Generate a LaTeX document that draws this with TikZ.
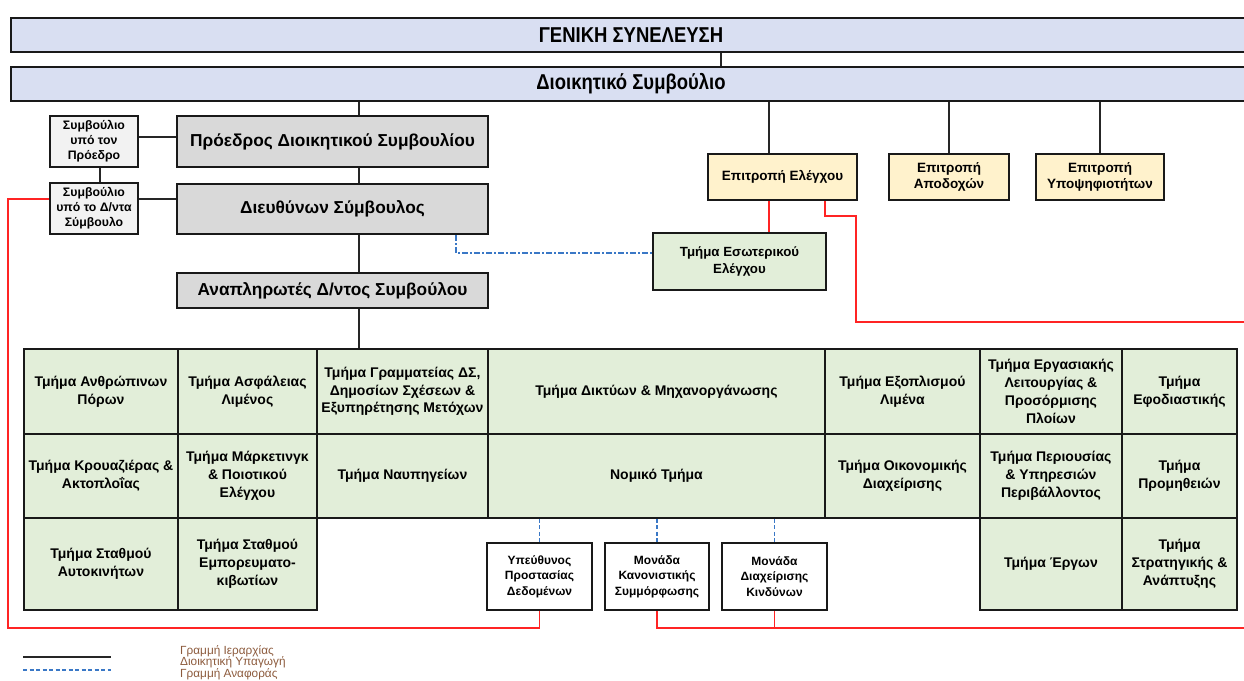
\documentclass[tikz,border=0pt]{standalone}
\usepackage{fontspec}
\setmainfont{Liberation Sans}
\newfontfamily\narrowfont[FakeStretch=0.86]{Liberation Sans}
\definecolor{barblue}{HTML}{D9DFF2}
\definecolor{boxgray}{HTML}{D9D9D9}
\definecolor{palegray}{HTML}{F2F2F2}
\definecolor{cteeyellow}{HTML}{FFF2CC}
\definecolor{deptgreen}{HTML}{E2EED9}
\definecolor{linered}{HTML}{FF2424}
\definecolor{lineblue}{HTML}{3A78C6}
\definecolor{legendbrown}{HTML}{8C5A3C}

\begin{document}
\begin{tikzpicture}[x=1pt, y=-1pt,
  box/.style={draw=black!90, line width=2pt, anchor=north west, inner sep=0pt, align=center, font=\bfseries},
  bar/.style={box, fill=barblue, minimum width=1240pt, minimum height=34pt, font=\narrowfont\bfseries\fontsize{21.5}{24}\selectfont},
  head/.style={box, fill=boxgray, minimum width=311pt, font=\bfseries\fontsize{17.3}{20}\selectfont},
  council/.style={box, fill=palegray, minimum width=88pt, minimum height=51pt, font=\bfseries\fontsize{12.3}{15}\selectfont},
  cttee/.style={box, fill=cteeyellow, minimum height=46pt, font=\bfseries\fontsize{13.5}{16}\selectfont},
  cell/.style={box, fill=deptgreen, line width=1.9pt, font=\bfseries\fontsize{14}{17.7}\selectfont},
  unit/.style={box, fill=white, minimum width=105pt, minimum height=67pt, font=\bfseries\fontsize{12}{15.5}\selectfont},
  hier/.style={draw=black!85, line width=1.5pt},
  admin/.style={draw=linered, line width=1.9pt},
  report/.style={draw=lineblue, line width=1.4pt, dash pattern=on 6pt off 2pt on 2pt off 2pt},
  dashrep/.style={draw=lineblue, line width=1.5pt, dash pattern=on 4pt off 2.5pt}]
\useasboundingbox (0,0) rectangle (1244,680);

% board and management
\node[bar] (gensyn) at (10,17) {ΓΕΝΙΚΗ ΣΥΝΕΛΕΥΣΗ};
\node[bar] (dsboard) at (10,66) {Διοικητικό Συμβούλιο};
\node[head, minimum height=51pt] (chair) at (176,115) {Πρόεδρος Διοικητικού Συμβουλίου};
\node[head, minimum height=50pt] (ceo) at (176,183) {Διευθύνων Σύμβουλος};
\node[head, minimum height=35pt] (deputy) at (176,272) {Αναπληρωτές Δ/ντος Συμβούλου};
\node[council] (chaircouncil) at (49,115) {Συμβούλιο\\υπό τον\\Πρόεδρο};
\node[council] (ceocouncil) at (49,182) {Συμβούλιο\\υπό το Δ/ντα\\Σύμβουλο};

% committees
\node[cttee, minimum width=149pt] (audit) at (707,153) {Επιτροπή Ελέγχου};
\node[cttee, minimum width=120pt] (remun) at (888,153) {Επιτροπή\\Αποδοχών};
\node[cttee, minimum width=128pt] (nomin) at (1035,153) {Επιτροπή\\Υποψηφιοτήτων};
\node[cell, line width=2pt, minimum width=173pt, minimum height=57pt, font=\bfseries\fontsize{13.3}{17}\selectfont] (intaudit) at (652,232) {Τμήμα Εσωτερικού\\Ελέγχου};

% departments, row 1
\node[cell, minimum width=154pt, minimum height=85pt] (hr) at (23,348) {Τμήμα Ανθρώπινων\\Πόρων};
\node[cell, minimum width=139pt, minimum height=85pt] (safety) at (177,348) {Τμήμα Ασφάλειας\\Λιμένος};
\node[cell, minimum width=171pt, minimum height=85pt] (secr) at (316,348) {Τμήμα Γραμματείας ΔΣ,\\Δημοσίων Σχέσεων \&\\Εξυπηρέτησης Μετόχων};
\node[cell, minimum width=337pt, minimum height=85pt] (netw) at (487,348) {Τμήμα Δικτύων \& Μηχανοργάνωσης};
\node[cell, minimum width=155pt, minimum height=85pt] (equip) at (824,348) {Τμήμα Εξοπλισμού\\Λιμένα};
\node[cell, minimum width=142pt, minimum height=85pt] (oper) at (979,348) {Τμήμα Εργασιακής\\Λειτουργίας \&\\Προσόρμισης\\Πλοίων};
\node[cell, minimum width=115pt, minimum height=85pt] (logist) at (1121,348) {Τμήμα\\Εφοδιαστικής};
% row 2
\node[cell, minimum width=154pt, minimum height=84pt] (cruise) at (23,433) {Τμήμα Κρουαζιέρας \&\\Ακτοπλοΐας};
\node[cell, minimum width=139pt, minimum height=84pt] (mkt) at (177,433) {Τμήμα Μάρκετινγκ\\\& Ποιοτικού\\Ελέγχου};
\node[cell, minimum width=171pt, minimum height=84pt] (shipy) at (316,433) {Τμήμα Ναυπηγείων};
\node[cell, minimum width=337pt, minimum height=84pt] (legal) at (487,433) {Νομικό Τμήμα};
\node[cell, minimum width=155pt, minimum height=84pt] (finance) at (824,433) {Τμήμα Οικονομικής\\Διαχείρισης};
\node[cell, minimum width=142pt, minimum height=84pt] (prop) at (979,433) {Τμήμα Περιουσίας\\\& Υπηρεσιών\\Περιβάλλοντος};
\node[cell, minimum width=115pt, minimum height=84pt] (procur) at (1121,433) {Τμήμα\\Προμηθειών};
% row 3
\node[cell, minimum width=154pt, minimum height=92pt] (carpark) at (23,517) {Τμήμα Σταθμού\\Αυτοκινήτων};
\node[cell, minimum width=139pt, minimum height=92pt] (contain) at (177,517) {Τμήμα Σταθμού\\Εμπορευματο-\\κιβωτίων};
\node[cell, minimum width=142pt, minimum height=92pt] (works) at (979,517) {Τμήμα Έργων};
\node[cell, minimum width=115pt, minimum height=92pt] (strat) at (1121,517) {Τμήμα\\Στρατηγικής \&\\Ανάπτυξης};

% units under the legal department
\node[unit] (dpo) at (486,542) {Υπεύθυνος\\Προστασίας\\Δεδομένων};
\node[unit, minimum width=104pt] (compl) at (604,542) {Μονάδα\\Κανονιστικής\\Συμμόρφωσης};
\node[unit] (risk) at (721,542) {Μονάδα\\Διαχείρισης\\Κινδύνων};

% helper points
\coordinate (gsdrop) at (721,0);
\coordinate (spine) at (359,0);
\coordinate (smallspine) at (100,0);
\coordinate (chairline) at (0,137);
\coordinate (ceoline) at (0,199);
\coordinate (auditdrop) at (769,0);
\coordinate (bendA) at (825,216);
\coordinate (bendB) at (856,322);
\coordinate (redE) at (1250,322);
\coordinate (redL) at (8,628);
\coordinate (redR) at (1250,628);
\coordinate (repbend) at (456,253);

% hierarchy
\draw[hier] (gensyn.south -| gsdrop) -- (dsboard.north -| gsdrop);
\draw[hier] (dsboard.south -| spine) -- (chair.north -| spine);
\draw[hier] (chair.south -| spine) -- (ceo.north -| spine);
\draw[hier] (ceo.south -| spine) -- (deputy.north -| spine);
\draw[hier] (deputy.south -| spine) -- (secr.north -| spine);
\draw[hier] (chaircouncil.east |- chairline) -- (chair.west |- chairline);
\draw[hier] (ceocouncil.east |- ceoline) -- (ceo.west |- ceoline);
\draw[hier] (chaircouncil.south -| smallspine) -- (ceocouncil.north -| smallspine);
\draw[hier] (dsboard.south -| auditdrop) -- (audit.north -| auditdrop);
\draw[hier] (remun.north |- dsboard.south) -- (remun.north);
\draw[hier] (nomin.north |- dsboard.south) -- (nomin.north);

% administrative reporting
\draw[admin] (audit.south -| auditdrop) -- (intaudit.north -| auditdrop);
\draw[admin] (audit.south -| bendA) -- (bendA) -| (bendB) -- (redE);
\draw[admin] (ceocouncil.west |- ceoline) -| (redL) -| (dpo.south);
\draw[admin] (compl.south) |- (redR);
\draw[admin] (risk.south) -- (risk.south |- redR);

% reporting lines
\draw[report] (ceo.south -| repbend) -- (repbend) -- (intaudit.west |- repbend);
\draw[dashrep] (legal.south -| dpo) -- (dpo.north);
\draw[dashrep] (legal.south -| compl) -- (compl.north);
\draw[dashrep] (legal.south -| risk) -- (risk.north);

% legend
\coordinate (lgA) at (23,657);
\coordinate (lgB) at (111,657);
\coordinate (lgC) at (23,670);
\coordinate (lgD) at (111,670);
\draw[hier, line width=2pt] (lgA) -- (lgB);
\draw[dashrep, line width=1.2pt] (lgC) -- (lgD);
\node[anchor=north west, inner sep=0pt, align=left, text=legendbrown, font=\fontsize{11.8}{11.5}\selectfont] (legend) at (180,645) {Γραμμή Ιεραρχίας\\Διοικητική Υπαγωγή\\Γραμμή Αναφοράς};
\end{tikzpicture}
\end{document}
